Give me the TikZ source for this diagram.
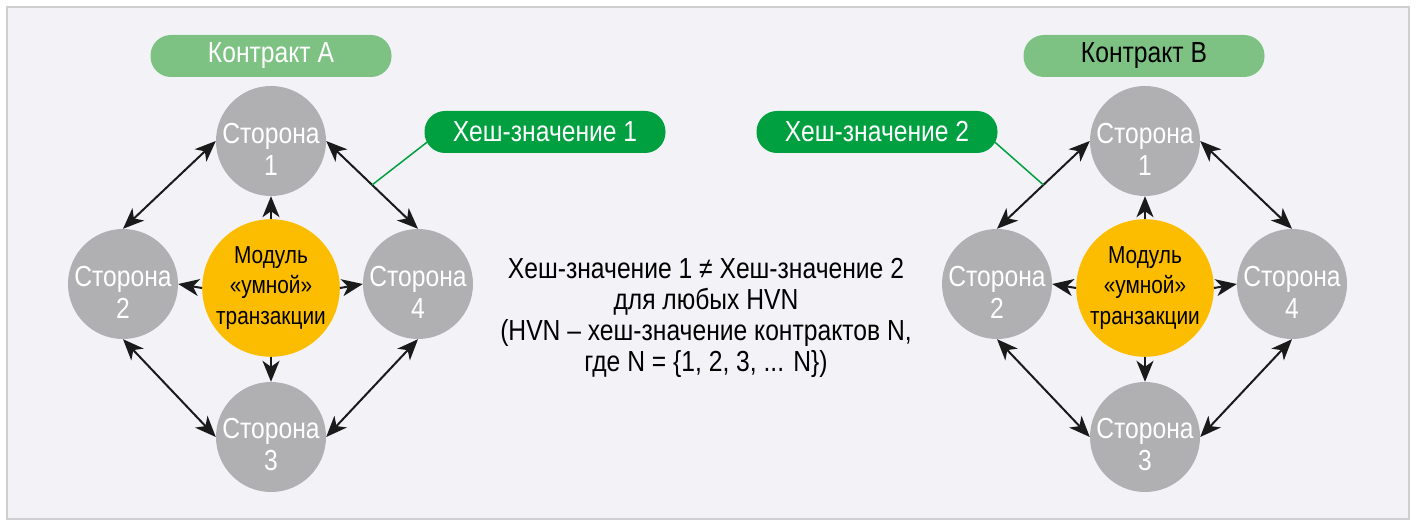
\documentclass[tikz,border=0pt]{standalone}
\usepackage{fontspec}
\setmainfont{Liberation Sans}[FakeStretch=0.85]
\usetikzlibrary{arrows.meta,calc}
\definecolor{bgc}{HTML}{F3F3F7}
\definecolor{framec}{HTML}{CFCFD2}
\definecolor{greyc}{HTML}{B0B0B2}
\definecolor{yellowc}{HTML}{FCBD00}
\definecolor{lgreen}{HTML}{7DC283}
\definecolor{dgreen}{HTML}{00A040}
\definecolor{arrc}{HTML}{1A1A1A}
\tikzset{
  side/.style={circle,fill=greyc,minimum size=110pt,inner sep=0pt},
  sidetext/.style={align=center,text=white,inner sep=0pt,font=\fontsize{29}{32}\selectfont},
  module/.style={circle,fill=yellowc,minimum size=126pt,inner sep=0pt,align=center,text=black,font=\fontsize{24.5}{30.5}\selectfont},
  pill/.style={rectangle,rounded corners=20.5pt,minimum width=241pt,minimum height=42pt,inner sep=0pt,font=\fontsize{29}{32}\selectfont},
  dbl/.style={draw=arrc,line width=2pt,{Stealth[length=21pt,width=17pt,inset=6pt]}-{Stealth[length=21pt,width=17pt,inset=6pt]}},
  sgl/.style={draw=arrc,line width=2pt,-{Stealth[length=21pt,width=17pt,inset=6pt]}},
  gline/.style={line width=1.5pt,draw=dgreen}
}
\begin{document}
\begin{tikzpicture}[x=1pt,y=-1pt]
\useasboundingbox (0,0) rectangle (1416,526);
\fill[white] (0,0) rectangle (1416,526);
\draw[framec,fill=bgc,line width=2pt] (7,7) rectangle (1409,519);
% left cluster
\node[side] (a1) at (271,141) {};
\node[side] (a2) at (123,284) {};
\node[side] (a4) at (418,284) {};
\node[side] (a3) at (271,437) {};
\node[sidetext] (a1t) at ([yshift=-8pt]a1.center) {Сторона\\1};
\node[sidetext] (a2t) at ([yshift=-8pt]a2.center) {Сторона\\2};
\node[sidetext] (a4t) at ([yshift=-8pt]a4.center) {Сторона\\4};
\node[sidetext] (a3t) at ([yshift=-8pt]a3.center) {Сторона\\3};
\node[module] (am) at (271,288) {Модуль\\«умной»\\транзакции};
\node[pill,fill=lgreen,text=white] (ca) at (271,56) {Контракт А};
\node[pill,fill=dgreen,text=white] (h1) at (545,132) {Хеш-значение 1};
\draw[dbl] (a1.west) -- (a2.north);
\draw[dbl] (a1.east) -- (a4.north);
\draw[dbl] (a2.south) -- (a3.west);
\draw[dbl] (a4.south) -- (a3.east);
\draw[sgl] (am.north) -- (a1.south);
\draw[sgl] (am.west) -- (a2.east);
\draw[sgl] (am.east) -- (a4.west);
\draw[sgl] (am.south) -- (a3.north);
\coordinate (p1) at ($(a1.east)!0.5!(a4.north)$);
\draw[gline] (p1) -- ([xshift=3pt,yshift=-10pt]h1.west);
% right cluster
\node[side] (b1) at (1145,141) {};
\node[side] (b2) at (997,284) {};
\node[side] (b4) at (1292,284) {};
\node[side] (b3) at (1145,437) {};
\node[sidetext] (b1t) at ([yshift=-8pt]b1.center) {Сторона\\1};
\node[sidetext] (b2t) at ([yshift=-8pt]b2.center) {Сторона\\2};
\node[sidetext] (b4t) at ([yshift=-8pt]b4.center) {Сторона\\4};
\node[sidetext] (b3t) at ([yshift=-8pt]b3.center) {Сторона\\3};
\node[module] (bm) at (1145,288) {Модуль\\«умной»\\транзакции};
\node[pill,fill=lgreen,text=black] (cb) at (1144,56) {Контракт В};
\node[pill,fill=dgreen,text=white] (h2) at (877,132) {Хеш-значение 2};
\draw[dbl] (b1.west) -- (b2.north);
\draw[dbl] (b1.east) -- (b4.north);
\draw[dbl] (b2.south) -- (b3.west);
\draw[dbl] (b4.south) -- (b3.east);
\draw[sgl] (bm.north) -- (b1.south);
\draw[sgl] (bm.west) -- (b2.east);
\draw[sgl] (bm.east) -- (b4.west);
\draw[sgl] (bm.south) -- (b3.north);
\coordinate (p2) at ($(b1.west)!0.5!(b2.north)$);
\draw[gline] (p2) -- ([xshift=-3pt,yshift=-10pt]h2.east);
% centre text
\node[align=center,font=\fontsize{29}{31}\selectfont,inner sep=0pt] (txt) at (706,318)
  {Хеш-значение 1 ≠ Хеш-значение 2\\для любых HVN\\(HVN – хеш-значение контрактов N,\\где N = \{1, 2, 3, ... N\})};
\end{tikzpicture}
\end{document}
